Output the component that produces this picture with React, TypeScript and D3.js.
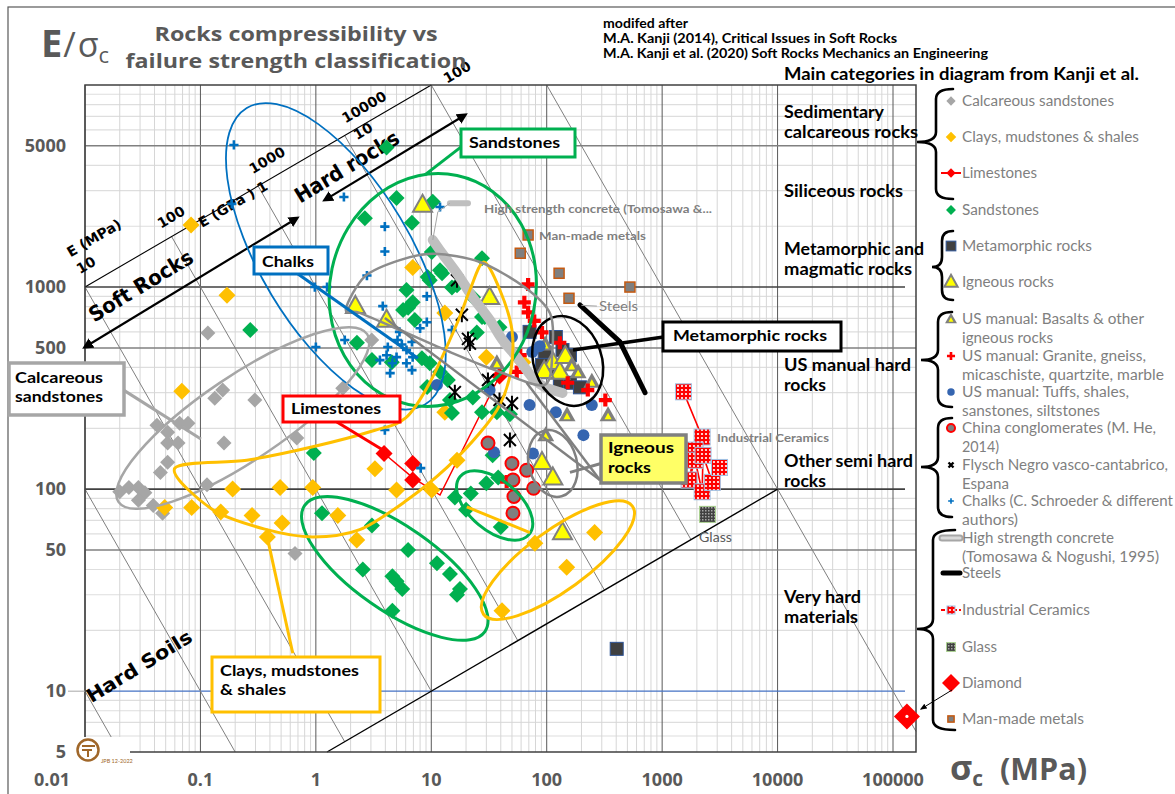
import React from "react";
import * as d3 from "d3";

type P = [number, number];

// ---- groups: [σc (MPa), E/σc] ----
const calcareousSandstones: P[] = [
  [0.116, 592], [0.156, 309], [0.133, 282], [0.296, 276], [0.684, 179], [1.71, 316],
  [3.05, 547], [0.066, 212], [0.078, 212], [0.16, 169], [0.052, 191], [0.052, 169],
  [0.064, 169], [0.052, 136], [0.045, 121], [0.114, 105], [0.024, 102], [0.029, 102],
  [0.033, 96], [0.029, 88], [0.039, 83], [0.047, 76], [0.66, 48], [0.02, 97], [0.042, 207],
];
const claysMudstonesShales: P[] = [
  [0.083, 2030], [0.17, 910], [0.069, 305], [0.19, 100], [0.49, 102], [0.94, 102],
  [0.049, 81], [0.084, 81], [0.15, 77], [0.28, 74], [0.51, 68], [0.38, 58], [1.55, 74],
  [2.26, 56], [3.25, 126], [5.0, 99], [10.1, 99], [16.7, 139], [13.1, 240], [6.9, 1250],
  [13.1, 745], [30, 450], [62, 425], [79, 54], [260, 61], [149, 41], [41, 25],
];
const limestones: P[] = [[3.9, 150], [6.9, 134], [6.9, 111], [39, 363]];
const limestoneTrace: P[] = [[3.9, 150], [6.9, 114], [11.9, 93.5], [39, 363]];
const sandstones: P[] = [
  [4.1, 4900], [5.0, 2760], [2.66, 2190], [6.8, 2080], [10.3, 2640], [10.1, 1490],
  [27.5, 1390], [9.7, 1080], [11.9, 1210], [6.1, 967], [6.3, 790], [7.2, 687], [15.1, 995],
  [23, 890], [39, 632], [27.5, 710], [24.8, 596], [9.3, 1120], [12.4, 1170], [16.7, 1020],
  [6.9, 840], [5.7, 770], [29, 710], [2.27, 530], [3.06, 435], [4.55, 425], [8.3, 444],
  [9.7, 420], [11.9, 380], [9.2, 320], [14.5, 276], [22.9, 284], [27.5, 240], [37, 240],
  [0.27, 613], [0.96, 151], [16, 91], [22, 95], [30, 107], [38, 114], [40, 65], [34, 147],
  [48, 235], [20, 79], [1.13, 76], [3.06, 66], [6.3, 50], [2.55, 40], [4.6, 37], [5, 35],
  [5.6, 32], [11.2, 43], [14.5, 38], [17.7, 32], [16.7, 30], [4.6, 25], [13.9, 347], [15.1, 238],
];
const metamorphic: P[] = [
  [71, 600], [120, 566], [96, 472], [91, 412], [137, 488], [159, 460], [130, 340],
  [159, 336], [194, 319], [102, 379], [404, 16.2],
];
const igneous: P[] = [
  [8.4, 2550], [2.2, 805], [4.1, 687], [32, 890], [91, 136], [113, 114], [137, 61],
  [113, 425], [130, 380], [95, 383], [145, 455],
];
const usBasalts: P[] = [[37, 420], [97, 520], [165, 410], [187, 379], [246, 340], [150, 232], [340, 232], [98, 185]];
const usGranites: P[] = [
  [69, 1030], [64, 840], [69, 750], [78, 680], [91, 596], [130, 530], [59, 460], [55, 380],
  [152, 336], [227, 309], [322, 276], [45, 109],
];
const usTuffs: P[] = [
  [11.2, 328], [32, 309], [50, 566], [75, 477], [71, 261], [120, 240], [246, 261],
  [208, 185], [35, 152], [76, 150], [87, 510],
];
const chinaConglomerates: P[] = [[31, 169], [50, 134], [67, 124], [51, 111], [77, 101], [52, 92], [51, 76]];
const flysch: P[] = [[16.7, 1080], [18.4, 730], [21.6, 525], [20.8, 554], [31, 347], [16, 302], [39, 276], [50, 266], [48, 175]];
const chalks: P[] = [
  [0.195, 5050], [0.187, 2580], [1.75, 2790], [3.96, 1990], [3.96, 1500], [2.77, 1140],
  [0.98, 1000], [1.25, 1000], [11.9, 2490], [9.15, 900], [3.8, 805], [9.15, 670], [8, 625],
  [15.1, 613], [5.1, 547], [4.2, 505], [6.8, 535], [6.1, 488], [6.9, 450], [5.0, 450],
  [4.1, 460], [4.6, 420], [6.1, 420], [6.8, 388], [4.4, 375], [1.78, 547], [1.0, 505],
  [3.96, 196], [8.1, 127], [5.3, 600], [5.56, 520], [3.59, 435],
];
const highStrengthConcrete: P[] = [
  [10.3, 1710], [12.4, 1470], [16.7, 1170], [22.9, 890], [32.2, 687], [41.5, 547],
  [55, 450], [67, 388], [78.5, 347], [96, 320], [137, 299],
];
const steels: P[] = [[194, 815], [431, 535], [711, 300]];
const industrialCeramics: P[] = [
  [1530, 303], [2220, 181], [1930, 156], [1710, 111], [1930, 139], [2220, 97], [2260, 147], [2720, 108], [3140, 128],
];
const glass: P[] = [[2470, 75]];
const diamond: P[] = [[132000, 7.5]];
const manMadeMetals: P[] = [[69, 1810], [59, 1470], [128, 1170], [156, 880], [526, 1000]];

// ---- axes ----
const xTicks = [0.01, 0.1, 1, 10, 100, 1000, 10000, 100000];
const xTickLabels = ["0.01", "0.1", "1", "10", "100", "1000", "10000", "100000"];
const yTicks = [5, 10, 50, 100, 500, 1000, 5000];
const yTickLabels = ["5", "10", "50", "100", "500", "1000", "5000"];
const eLines = [0.1, 1, 10, 100, 1000, 10000, 100000, 1000000]; // constant-modulus lines, MPa

// ---- annotation geometry (anchored in data units) ----
const groupEllipses = [
  { c: [1.49, 1420] as P, rx: 173, ry: 75, rot: 59, stroke: "#0070c0", w: 1.8 },
  { c: [10.3, 967] as P, rx: 103, ry: 117, rot: 12, stroke: "#00b050", w: 3 },
  { c: [0.233, 225] as P, rx: 150, ry: 42, rot: -34, stroke: "#a6a6a6", w: 2.5 },
  { c: [152, 431] as P, rx: 34, ry: 46, rot: -19, stroke: "#000000", w: 2.5 },
  { c: [113, 134] as P, rx: 24, ry: 34, rot: -15, stroke: "#808080", w: 2.5 },
  { c: [35.4, 83] as P, rx: 45, ry: 25, rot: 40, stroke: "#00b050", w: 3 },
  { c: [4.83, 40.5] as P, rx: 110, ry: 42, rot: 35, stroke: "#00b050", w: 3 },
  { c: [125, 44.5] as P, rx: 92, ry: 30, rot: -36, stroke: "#ffc000", w: 3 },
];
const clayOutline: P[] = [
  [0.06, 127], [0.128, 79], [0.376, 63], [0.94, 58], [2.4, 63], [6.13, 88], [13.7, 128],
  [26.4, 190], [39.3, 261], [49, 388], [50, 613], [39.3, 967], [28.5, 1330], [21.6, 967],
  [16.7, 660], [9.7, 336], [6.0, 225], [3.2, 195], [0.94, 162], [0.252, 139],
];
const igneousOutline: P[] = [
  [1.82, 777], [2.66, 1130], [5.34, 1360], [10.7, 1460], [26.4, 1330], [64, 1000], [107, 740],
  [112, 488], [96, 328], [39.3, 380], [14.5, 477], [5.34, 613], [2.4, 745],
];
const leaders = [
  { pts: [[19.6, 5110], [8.8, 3590]] as P[], stroke: "#00b050", w: 3 },
  { pts: [[0.7, 1160], [7.65, 444]] as P[], stroke: "#0070c0", w: 3 },
  { pts: [[0.0216, 309], [0.101, 177]] as P[], stroke: "#a6a6a6", w: 3 },
  { pts: [[1.52, 215], [3.81, 156]] as P[], stroke: "#ff0000", w: 3 },
  { pts: [[0.631, 15.4], [0.384, 55.9]] as P[], stroke: "#ffc000", w: 3 },
  { pts: [[20.3, 81.6], [71.5, 60.9]] as P[], stroke: "#ffc000", w: 3 },
  { pts: [[169, 488], [1030, 566]] as P[], stroke: "#000000", w: 3.5 },
  { pts: [[295, 134], [159, 121]] as P[], stroke: "#808080", w: 3 },
  { pts: [[289, 111], [3.96, 702]] as P[], stroke: "#808080", w: 2.5 },
  { pts: [[289, 111], [67, 336]] as P[], stroke: "#808080", w: 2.5 },
  { pts: [[200, 812], [272, 805]] as P[], stroke: "#a6a6a6", w: 1 },
  { pts: [[10.3, 1710], [11.4, 2360], [14.5, 2600]] as P[], stroke: "#a6a6a6", w: 1 },
];
const eAxisLine: P[] = [[0.01, 1000], [10, 10000]];
const lowerBoundary: P[] = [[1.25, 5], [10000, 100]];
const softRocksArrow: P[] = [[0.01, 505], [0.684, 2190]];
const hardRocksArrow: P[] = [[1.2, 2700], [19.6, 7100]];
const concreteTag: P[] = [[14.5, 2600], [20.8, 2600]];

// ---- legend ----
const legendEntries: { kind: string; lines: string[]; widths: number[]; y: number }[] = [
  { kind: "calc", lines: ["Calcareous sandstones"], widths: [152], y: 106 },
  { kind: "clay", lines: ["Clays, mudstones & shales"], widths: [177], y: 142 },
  { kind: "lime", lines: ["Limestones"], widths: [75], y: 178 },
  { kind: "sand", lines: ["Sandstones"], widths: [77], y: 215 },
  { kind: "meta", lines: ["Metamorphic rocks"], widths: [130], y: 251 },
  { kind: "ign", lines: ["Igneous rocks"], widths: [92], y: 287 },
  { kind: "basalt", lines: ["US manual: Basalts & other", "igneous rocks"], widths: [182, 91], y: 324 },
  { kind: "granite", lines: ["US manual: Granite, gneiss,", "micaschiste, quartzite, marble"], widths: [184, 202], y: 361 },
  { kind: "tuff", lines: ["US manual: Tuffs, shales,", "sanstones, siltstones"], widths: [167, 138], y: 397 },
  { kind: "china", lines: ["China conglomerates (M. He,", "2014)"], widths: [194, 37], y: 433 },
  { kind: "flyschX", lines: ["Flysch Negro vasco-cantabrico,", "Espana"], widths: [206, 47], y: 470 },
  { kind: "chalk", lines: ["Chalks (C. Schroeder & different", "authors)"], widths: [211, 56], y: 506 },
  { kind: "concrete", lines: ["High strength concrete", "(Tomosawa & Nogushi, 1995)"], widths: [152, 197], y: 543 },
  { kind: "steel", lines: ["Steels"], widths: [39], y: 578 },
  { kind: "ceramLeg", lines: ["Industrial Ceramics"], widths: [128], y: 615 },
  { kind: "glass", lines: ["Glass"], widths: [35], y: 652 },
  { kind: "diamond", lines: ["Diamond"], widths: [60], y: 688 },
  { kind: "metal", lines: ["Man-made metals"], widths: [122], y: 724 },
];
const categoryLabels: { lines: string[]; widths: number[]; y: number }[] = [
  { lines: ["Sedimentary", "calcareous rocks"], widths: [100, 134], y: 118 },
  { lines: ["Siliceous rocks"], widths: [119], y: 197 },
  { lines: ["Metamorphic and", "magmatic rocks"], widths: [140, 128], y: 255 },
  { lines: ["US manual hard", "rocks"], widths: [127, 42], y: 371 },
  { lines: ["Other semi hard", "rocks"], widths: [129, 42], y: 467 },
  { lines: ["Very hard", "materials"], widths: [77, 74], y: 603 },
];

const SANS = "Lato, 'Open Sans', sans-serif";
const WIDE = "'DejaVu Sans', Verdana, sans-serif";
const OPEN = "'Open Sans', 'DejaVu Sans', sans-serif";
const GREY_TXT = "#595959";

const dia = (s: number) => `M0,${-s}L${s},0L0,${s}L${-s},0Z`;
const tri = (w: number, h: number) => `M0,${-h * 0.6}L${w / 2},${h * 0.4}L${-w / 2},${h * 0.4}Z`;
const plus = (s: number) => `M${-s},0H${s}M0,${-s}V${s}`;
const star = (s: number) => `M${-s},${-s}L${s},${s}M${s},${-s}L${-s},${s}M0,${-s * 1.25}V${s * 1.25}`;
const cross = (s: number) => `M${-s},${-s}L${s},${s}M${s},${-s}L${-s},${s}`;

function Marker({ kind, cx, cy, k = 1 }: { kind: string; cx: number; cy: number; k?: number }) {
  const t = `translate(${cx},${cy})`;
  switch (kind) {
    case "calc":
      return <path transform={t} d={dia(7.5 * k)} fill="#a6a6a6" />;
    case "clay":
      return <path transform={t} d={dia(8.5 * k)} fill="#ffc000" />;
    case "lime":
      return <path transform={t} d={dia(8.5 * k)} fill="#ff0000" />;
    case "sand":
      return <path transform={t} d={dia(8 * k)} fill="#00b050" />;
    case "meta":
      return <rect x={cx - 6.5 * k} y={cy - 6.5 * k} width={13 * k} height={13 * k} fill="#404040" stroke="#2f5597" strokeWidth={1} />;
    case "ign":
      return <path transform={t} d={tri(19 * k, 17 * k)} fill="#ffff00" stroke="#808080" strokeWidth={2} />;
    case "basalt":
      return (
        <g transform={t}>
          <path d={tri(17 * k, 15 * k)} fill="#7f7f7f" />
          <path d={tri(7 * k, 6.5 * k)} fill="#ffff00" transform={`translate(0,${1.5 * k})`} />
        </g>
      );
    case "granite":
      return <path transform={t} d={plus(6.5 * k)} stroke="#ff0000" strokeWidth={4.2 * k} />;
    case "tuff":
      return <circle cx={cx} cy={cy} r={6 * k} fill="#3565b0" />;
    case "china":
      return <circle cx={cx} cy={cy} r={6.5 * k} fill="#7f7f7f" stroke="#ff0000" strokeWidth={2} />;
    case "flysch":
      return <path transform={t} d={star(6 * k)} stroke="#000" strokeWidth={2} />;
    case "flyschX":
      return <path transform={t} d={cross(4 * k)} stroke="#000" strokeWidth={2.4} />;
    case "chalk":
      return <path transform={t} d={plus(4.6 * k)} stroke="#0070c0" strokeWidth={2.6 * k} />;
    case "metal":
      return <rect x={cx - 5 * k} y={cy - 5 * k} width={10 * k} height={10 * k} fill="#7f7f7f" stroke="#c55a11" strokeWidth={1.5} />;
    case "ceram":
      return <rect x={cx - 8 * k} y={cy - 8 * k} width={16 * k} height={16 * k} fill="url(#ceramPat)" stroke="#9dc3e6" strokeWidth={1} />;
    case "glass":
      return <rect x={cx - 8 * k} y={cy - 8 * k} width={16 * k} height={16 * k} fill="url(#glassPat)" stroke="#a9d18e" strokeWidth={1} />;
    case "diamond":
      return (
        <g transform={t}>
          <path d={dia(13 * k)} fill="#ff0000" />
          <circle r={1.6 * k} fill="#fff" />
        </g>
      );
    default:
      return null;
  }
}

function LegendMark({ kind, cx, cy }: { kind: string; cx: number; cy: number }) {
  if (kind === "lime")
    return (
      <g>
        <line x1={cx - 10} x2={cx + 10} y1={cy} y2={cy} stroke="#ff0000" strokeWidth={2} />
        <Marker kind="lime" cx={cx} cy={cy} k={0.55} />
      </g>
    );
  if (kind === "concrete")
    return (
      <g>
        <line x1={cx - 9} x2={cx + 9} y1={cy} y2={cy} stroke="#a6a6a6" strokeWidth={7} strokeLinecap="round" />
        <line x1={cx - 9} x2={cx + 9} y1={cy} y2={cy} stroke="#d9d9d9" strokeWidth={3} strokeLinecap="round" />
      </g>
    );
  if (kind === "steel")
    return <line x1={cx - 8} x2={cx + 9} y1={cy} y2={cy} stroke="#000" strokeWidth={5} strokeLinecap="round" />;
  if (kind === "ceramLeg")
    return (
      <g>
        <line x1={cx - 10} x2={cx + 10} y1={cy} y2={cy} stroke="#ff0000" strokeWidth={2} strokeDasharray="4 2" />
        <Marker kind="ceram" cx={cx} cy={cy} k={0.5} />
      </g>
    );
  if (kind === "diamond") return <path transform={`translate(${cx},${cy})`} d={dia(9)} fill="#ff0000" />;
  const k = kind === "ign" || kind === "basalt" ? 0.7 : kind === "glass" ? 0.55 : kind === "meta" ? 0.75 : 0.62;
  return <Marker kind={kind} cx={cx} cy={cy} k={k} />;
}

function brace(x: number, y1: number, y2: number, body: number, depth: number, tipY?: number) {
  const ym = tipY ?? (y1 + y2) / 2;
  const xb = x - body;
  const r = Math.min(body, 10);
  return `M${x},${y1} Q${xb},${y1} ${xb},${y1 + r} L${xb},${ym - r} Q${xb},${ym} ${x - depth},${ym} Q${xb},${ym} ${xb},${ym + r} L${xb},${y2 - r} Q${xb},${y2} ${x},${y2}`;
}

export default function App() {
  const W = 1175;
  const H = 794;
  const L = 85;
  const T = 85;
  const R = 916;
  const B = 752;
  const x = d3.scaleLog().domain([0.01, 100000]).range([85, 893]);
  const y = d3.scaleLog().domain([5, 10000]).range([752, 85]);
  const xMax = x.invert(R);
  const line = d3.line<P>().x((d) => x(d[0])).y((d) => y(d[1]));
  const closed = d3.line<P>().x((d) => x(d[0])).y((d) => y(d[1])).curve(d3.curveCardinalClosed.tension(0.1));
  const smooth = d3.line<P>().x((d) => x(d[0])).y((d) => y(d[1])).curve(d3.curveCatmullRom);

  // gridlines
  const vGrid: { v: number; major: boolean }[] = [];
  for (let e = -2; e <= 5; e++) {
    for (let m = 1; m <= 9; m++) {
      const v = m * Math.pow(10, e);
      if (v <= xMax * 0.999) vGrid.push({ v, major: m === 1 });
    }
  }
  const hGrid: { v: number; m: number }[] = [];
  for (let e = 0; e <= 3; e++) {
    for (let m = 1; m <= 9; m++) {
      const v = m * Math.pow(10, e);
      if (v > 5 && v < 10000) hGrid.push({ v, m });
    }
  }

  // constant-modulus lines E = σc · (E/σc)
  const axisK = 1000 * Math.cbrt(100);
  const lowK = Math.pow(10, 2 / 3);
  const eSegments = eLines.map((E) => {
    let s0 = Math.max(0.01, E / 10000);
    const sa = Math.pow(E / axisK, 0.75);
    if (sa >= 0.0099 && sa <= 10.01) s0 = Math.max(s0, sa);
    let s1 = Math.min(E / 5, xMax);
    const sb = Math.pow(E / lowK, 0.75);
    if (sb >= 1.25 && sb < 9000) s1 = Math.min(s1, sb);
    return [[s0, E / s0], [s1, E / s1]] as P[];
  });

  const series: { data: P[]; kind: string }[] = [
    { data: calcareousSandstones, kind: "calc" },
    { data: claysMudstonesShales, kind: "clay" },
    { data: limestones, kind: "lime" },
    { data: sandstones, kind: "sand" },
    { data: metamorphic, kind: "meta" },
    { data: igneous, kind: "ign" },
    { data: usBasalts, kind: "basalt" },
    { data: usGranites, kind: "granite" },
    { data: usTuffs, kind: "tuff" },
    { data: chinaConglomerates, kind: "china" },
    { data: flysch, kind: "flysch" },
    { data: chalks, kind: "chalk" },
  ];

  const tiltE = -30.3;
  const tiltArrow = -31.3;

  return (
    <svg width={W} height={H} viewBox={`0 0 ${W} ${H}`} style={{ position: "absolute", left: 0, top: 0, background: "#fff" }}>
      <defs>
        <pattern id="ceramPat" width="4" height="4" patternUnits="userSpaceOnUse">
          <rect width="4" height="4" fill="#ff0000" />
          <circle cx="2" cy="2" r="1.1" fill="#fff" />
        </pattern>
        <pattern id="glassPat" width="3" height="3" patternUnits="userSpaceOnUse">
          <rect width="3" height="3" fill="#404040" />
          <rect width="1.5" height="1.5" fill="#a6a6a6" />
        </pattern>
        <marker id="arrowHead" viewBox="0 0 10 10" refX="7" refY="5" markerWidth="5" markerHeight="5" orient="auto-start-reverse">
          <path d="M0,0L10,5L0,10z" fill="#000" />
        </marker>
        <marker id="smallHead" viewBox="0 0 10 10" refX="8" refY="5" markerWidth="7" markerHeight="7" orient="auto">
          <path d="M0,1L10,5L0,9z" fill="#000" />
        </marker>
      </defs>

      <rect x={0} y={0} width={W} height={H} fill="#fff" />
      <rect x={8} y={7} width={W + 10} height={H + 10} fill="none" stroke="#595959" strokeWidth={1.2} />

      {/* grid */}
      <g>
        {hGrid.filter((g) => g.m !== 1 && g.m !== 5).map((g) => (
          <line key={"hm" + g.v} x1={L} x2={R} y1={y(g.v)} y2={y(g.v)} stroke="#dedede" strokeWidth={1.2} />
        ))}
        {vGrid.filter((g) => !g.major).map((g) => (
          <line key={"vm" + g.v} x1={x(g.v)} x2={x(g.v)} y1={T} y2={B} stroke="#d6d6d6" strokeWidth={1} />
        ))}
        {vGrid.filter((g) => g.major).map((g) => (
          <line key={"vM" + g.v} x1={x(g.v)} x2={x(g.v)} y1={T} y2={B} stroke="#595959" strokeWidth={1} />
        ))}
        {hGrid.filter((g) => g.m === 5).map((g) => (
          <line key={"h5" + g.v} x1={L} x2={R} y1={y(g.v)} y2={y(g.v)} stroke="#808080" strokeWidth={1.5} />
        ))}
        {hGrid.filter((g) => g.m === 1).map((g) => (
          <line
            key={"hM" + g.v}
            x1={L}
            x2={905}
            y1={y(g.v)}
            y2={y(g.v)}
            stroke={g.v === 10 ? "#4472c4" : "#404040"}
            strokeWidth={g.v === 10 ? 1.4 : 1.6}
          />
        ))}
      </g>

      {/* constant-modulus lines */}
      {eSegments.map((s, i) => (
        <path key={"e" + i} d={line(s) || ""} stroke="#7f7f7f" strokeWidth={1} fill="none" />
      ))}
      <path d={line(eAxisLine) || ""} stroke="#000" strokeWidth={1.1} fill="none" />
      <path d={line(lowerBoundary) || ""} stroke="#000" strokeWidth={1.4} fill="none" />

      {/* frame */}
      <path d={`M${L},${T}H${R}V${B}H${L}Z`} fill="none" stroke="#404040" strokeWidth={1.5} />

      {/* E-axis labels */}
      {[
        { t: "E (MPa)", px: 94, py: 238 },
        { t: "10", px: 86, py: 265 },
        { t: "100", px: 171, py: 217 },
        { t: "E (GPa ) 1", px: 233, py: 204 },
        { t: "1000", px: 267, py: 160 },
        { t: "10000", px: 364, py: 107 },
        { t: "10", px: 363, py: 131 },
        { t: "100", px: 457, py: 72 },
      ].map((l, i) => (
        <text
          key={"ea" + i}
          x={l.px}
          y={l.py}
          fontFamily={WIDE}
          fontWeight={700}
          fontSize={14}
          textAnchor="middle"
          dominantBaseline="central"
          transform={`rotate(${tiltE} ${l.px} ${l.py})`}
        >
          {l.t}
        </text>
      ))}

      {/* rock class arrows */}
      <path d={line(softRocksArrow) || ""} stroke="#000" strokeWidth={2.2} fill="none" markerStart="url(#arrowHead)" markerEnd="url(#arrowHead)" />
      <path d={line(hardRocksArrow) || ""} stroke="#000" strokeWidth={2.2} fill="none" markerStart="url(#arrowHead)" markerEnd="url(#arrowHead)" />
      <text x={141} y={286} fontFamily={WIDE} fontWeight={700} fontSize={21} textAnchor="middle" dominantBaseline="central" textLength={118} lengthAdjust="spacingAndGlyphs" transform={`rotate(${tiltArrow} 141 286)`}>
        Soft Rocks
      </text>
      <text x={347} y={167} fontFamily={WIDE} fontWeight={700} fontSize={21} textAnchor="middle" dominantBaseline="central" textLength={118} lengthAdjust="spacingAndGlyphs" transform={`rotate(${tiltArrow} 347 167)`}>
        Hard rocks
      </text>
      <text x={139} y={666} fontFamily={WIDE} fontWeight={700} fontSize={19} textAnchor="middle" dominantBaseline="central" textLength={120} lengthAdjust="spacingAndGlyphs" transform={`rotate(-31.5 139 666)`}>
        Hard  Soils
      </text>

      {/* category captions */}
      {categoryLabels.map((c, i) =>
        c.lines.map((t, j) => (
          <text key={"cat" + i + j} x={784} y={c.y + j * 20} fontFamily={SANS} fontWeight={700} fontSize={16.5} fill="#000" textLength={c.widths[j]} lengthAdjust="spacingAndGlyphs">
            {t}
          </text>
        ))
      )}

      {/* data series */}
      <path d={line(limestoneTrace) || ""} stroke="#ff0000" strokeWidth={1.5} fill="none" />
      {series.map((s) => (
        <g key={s.kind}>
          {s.data.map((d, i) => (
            <Marker key={i} kind={s.kind} cx={x(d[0])} cy={y(d[1])} />
          ))}
        </g>
      ))}
      <path d={smooth(highStrengthConcrete) || ""} stroke="#bfbfbf" strokeWidth={10} strokeLinecap="round" strokeLinejoin="round" fill="none" />
      <path d={line(concreteTag) || ""} stroke="#bfbfbf" strokeWidth={6} strokeLinecap="round" fill="none" />
      <path d={line(steels) || ""} stroke="#000" strokeWidth={5} strokeLinejoin="round" strokeLinecap="round" fill="none" />
      <path d={line(industrialCeramics) || ""} stroke="#ff0000" strokeWidth={1.6} fill="none" />
      {industrialCeramics.map((d, i) => (
        <Marker key={"ic" + i} kind="ceram" cx={x(d[0])} cy={y(d[1])} />
      ))}
      {glass.map((d, i) => (
        <Marker key={"gl" + i} kind="glass" cx={x(d[0])} cy={y(d[1])} />
      ))}
      {diamond.map((d, i) => (
        <Marker key={"di" + i} kind="diamond" cx={x(d[0])} cy={y(d[1])} />
      ))}
      {manMadeMetals.map((d, i) => (
        <Marker key={"mm" + i} kind="metal" cx={x(d[0])} cy={y(d[1])} />
      ))}

      {/* group outlines */}
      {groupEllipses.map((e, i) => (
        <ellipse
          key={"el" + i}
          cx={0}
          cy={0}
          rx={e.rx}
          ry={e.ry}
          transform={`translate(${x(e.c[0])},${y(e.c[1])}) rotate(${e.rot})`}
          fill="none"
          stroke={e.stroke}
          strokeWidth={e.w}
        />
      ))}
      <path d={closed(clayOutline) || ""} fill="none" stroke="#ffc000" strokeWidth={3} />
      <path d={closed(igneousOutline) || ""} fill="none" stroke="#8c8c8c" strokeWidth={2.5} />
      {leaders.map((l, i) => (
        <path key={"ld" + i} d={line(l.pts) || ""} stroke={l.stroke} strokeWidth={l.w} fill="none" />
      ))}

      {/* in-plot tags */}
      <text x={484} y={213} fontFamily={SANS} fontWeight={700} fontSize={12} fill="#7f7f7f" textLength={228} lengthAdjust="spacingAndGlyphs">
        High strength concrete (Tomosawa &amp;...
      </text>
      <text x={539} y={240} fontFamily={SANS} fontWeight={700} fontSize={12} fill="#7f7f7f" textLength={107} lengthAdjust="spacingAndGlyphs">
        Man-made metals
      </text>
      <text x={599} y={311} fontFamily={SANS} fontSize={13} fill="#7f7f7f" textLength={39} lengthAdjust="spacingAndGlyphs">
        Steels
      </text>
      <text x={717} y={442} fontFamily={SANS} fontWeight={700} fontSize={11.5} fill="#7f7f7f" textLength={112} lengthAdjust="spacingAndGlyphs">
        Industrial Ceramics
      </text>
      <text x={699} y={542} fontFamily={SANS} fontSize={13} fill="#595959" textLength={33} lengthAdjust="spacingAndGlyphs">
        Glass
      </text>

      {/* label boxes */}
      <g fontFamily={SANS} fontWeight={700} fontSize={16} fill="#000">
        <rect x={461} y={129} width={114} height={28} fill="#fff" stroke="#00b050" strokeWidth={3} />
        <text x={469} y={148} textLength={91} lengthAdjust="spacingAndGlyphs">Sandstones</text>
        <rect x={254} y={247} width={74} height={27} fill="#fff" stroke="#0070c0" strokeWidth={3} />
        <text x={262} y={267} textLength={52} lengthAdjust="spacingAndGlyphs">Chalks</text>
        <rect x={9} y={363} width={115} height={52} fill="#fff" stroke="#a6a6a6" strokeWidth={3.5} />
        <text x={15} y={383} textLength={88} lengthAdjust="spacingAndGlyphs">Calcareous</text>
        <text x={15} y={402} textLength={88} lengthAdjust="spacingAndGlyphs">sandstones</text>
        <rect x={283} y={396} width={117} height={26} fill="#fff" stroke="#ff0000" strokeWidth={3} />
        <text x={291} y={414} textLength={90} lengthAdjust="spacingAndGlyphs">Limestones</text>
        <rect x={212} y={657} width={168} height={55} fill="#fff" stroke="#ffc000" strokeWidth={3} />
        <text x={220} y={676} textLength={139} lengthAdjust="spacingAndGlyphs">Clays, mudstones</text>
        <text x={220} y={695} textLength={66} lengthAdjust="spacingAndGlyphs">&amp; shales</text>
        <rect x={663} y={322} width={178} height={29} fill="#fff" stroke="#000" strokeWidth={3} />
        <text x={673} y={341} textLength={154} lengthAdjust="spacingAndGlyphs">Metamorphic rocks</text>
        <rect x={601} y={435} width={85} height={48} fill="#ffff66" stroke="#808080" strokeWidth={3.5} />
        <text x={608} y={453} textLength={66} lengthAdjust="spacingAndGlyphs">Igneous</text>
        <text x={608} y={473} textLength={43} lengthAdjust="spacingAndGlyphs">rocks</text>
      </g>

      {/* signature mark */}
      <rect x={72} y={737} width={58} height={30} fill="#fff" />
      <g>
        <circle cx={88} cy={750} r={10.5} fill="none" stroke="#a0672a" strokeWidth={2.5} />
        <path d="M82,746 H95 M82,750 H92 M88,750 V757" stroke="#a0672a" strokeWidth={2} fill="none" />
        <text x={101} y={763} fontFamily={SANS} fontSize={5.5} fill="#a0672a">JPB 12-2022</text>
      </g>

      {/* tick labels */}
      {xTicks.map((v, i) => (
        <text key={"xt" + i} x={i === 0 ? 52 : x(v)} y={786} textAnchor="middle" fontFamily={OPEN} fontWeight={700} fontSize={18} fill={GREY_TXT}>
          {xTickLabels[i]}
        </text>
      ))}
      {yTicks.map((v, i) => (
        <text key={"yt" + i} x={66} y={y(v) + 6} textAnchor="end" fontFamily={OPEN} fontWeight={700} fontSize={18} fill={GREY_TXT}>
          {yTickLabels[i]}
        </text>
      ))}
      <line x1={68} x2={L} y1={y(10)} y2={y(10)} stroke="#a6a6a6" strokeWidth={1} />

      {/* axis titles */}
      <text x={41} y={57} fontFamily={OPEN} fill={GREY_TXT}>
        <tspan fontSize={38} fontWeight={700}>E</tspan>
        <tspan fontSize={34} dx={1}>/</tspan>
        <tspan fontSize={34} dx={2}>σ</tspan>
        <tspan fontSize={22} dy={6}>c</tspan>
      </text>
      <text x={950} y={780} fontFamily={OPEN} fill={GREY_TXT} fontWeight={700}>
        <tspan fontSize={34}>σ</tspan>
        <tspan fontSize={21} dy={6}>c</tspan>
      </text>
      <text x={1000} y={780} fontFamily={OPEN} fill={GREY_TXT} fontWeight={700} fontSize={30} textLength={87} lengthAdjust="spacingAndGlyphs">
        (MPa)
      </text>

      {/* title */}
      <text x={296} y={41} textAnchor="middle" fontFamily={OPEN} fontWeight={700} fontSize={20} fill={GREY_TXT} textLength={283} lengthAdjust="spacingAndGlyphs">
        Rocks compressibility vs
      </text>
      <text x={296} y={68} textAnchor="middle" fontFamily={OPEN} fontWeight={700} fontSize={20} fill={GREY_TXT} textLength={341} lengthAdjust="spacingAndGlyphs">
        failure strength classification
      </text>

      {/* source notes */}
      <g fontFamily={SANS} fontWeight={700} fontSize={12.5} fill="#000">
        <text x={603} y={28} textLength={85} lengthAdjust="spacingAndGlyphs">modifed after</text>
        <text x={603} y={43} textLength={294} lengthAdjust="spacingAndGlyphs">M.A. Kanji (2014), Critical Issues in Soft Rocks</text>
        <text x={603} y={58} textLength={385} lengthAdjust="spacingAndGlyphs">M.A. Kanji et al. (2020) Soft Rocks Mechanics an Engineering</text>
      </g>
      <text x={784} y={80} fontFamily={SANS} fontWeight={700} fontSize={16.5} fill="#000" textLength={355} lengthAdjust="spacingAndGlyphs">
        Main categories in diagram from Kanji et al.
      </text>

      {/* legend */}
      <g fill="none" stroke="#000" strokeWidth={2.6} strokeLinecap="round">
        <path d={brace(953, 89, 199, 17, 36, 142)} />
        <path d={brace(953, 231, 300, 11, 21, 267)} />
        <path d={brace(952, 312, 407, 14, 31, 360)} />
        <path d={brace(952, 418, 517, 14, 31, 467)} />
        <path d={brace(955, 530, 730, 22, 38, 629)} />
      </g>
      {legendEntries.map((e, i) => (
        <g key={"lg" + i}>
          <LegendMark kind={e.kind} cx={951} cy={e.y - 5} />
          {e.lines.map((t, j) => (
            <text key={j} x={962} y={e.y + j * 19} fontFamily={SANS} fontSize={14.5} fill="#7f7f7f" textLength={e.widths[j]} lengthAdjust="spacingAndGlyphs">
              {t}
            </text>
          ))}
        </g>
      ))}
      <line x1={952} y1={690} x2={921} y2={709} stroke="#000" strokeWidth={1} markerEnd="url(#smallHead)" />
    </svg>
  );
}
